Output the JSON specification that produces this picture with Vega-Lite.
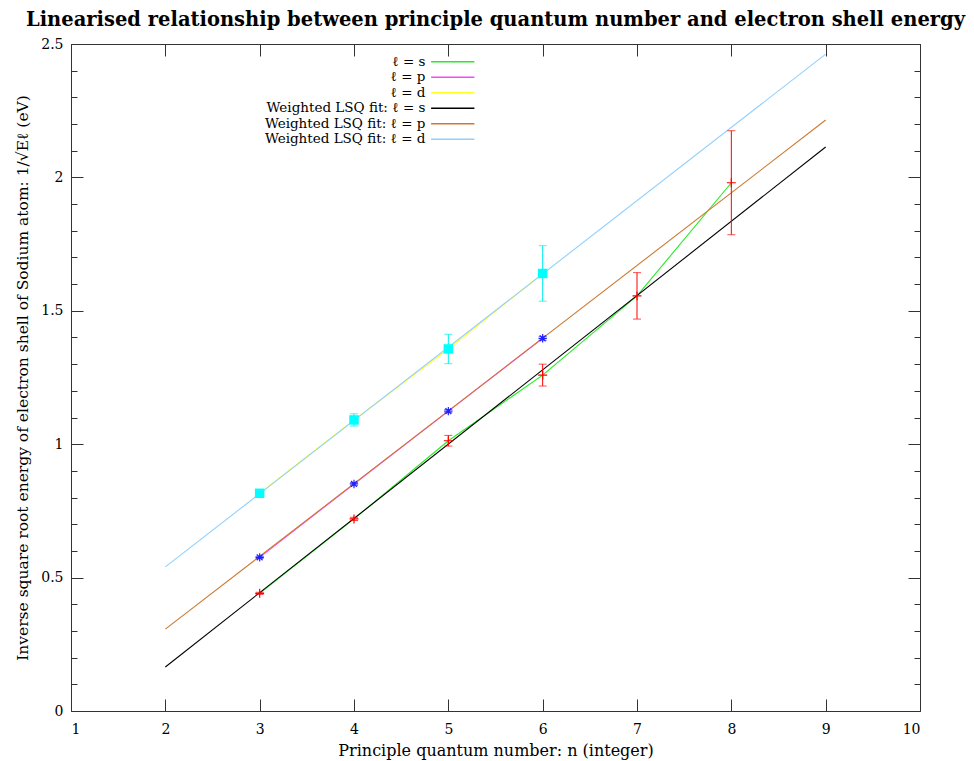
{
  "$schema": "https://vega.github.io/schema/vega-lite/v6.json",
  "width": 849,
  "height": 667,
  "autosize": {"type": "none"},
  "padding": {"left": 71, "top": 44, "right": 54, "bottom": 50},
  "background": "white",
  "config": {
    "view": {"stroke": "#333333", "strokeWidth": 1},
    "font": "DejaVu Serif",
    "axis": {"grid": false, "domain": false, "tickColor": "#333333", "labelFont": "DejaVu Serif", "titleFont": "DejaVu Serif", "labelColor": "black", "titleColor": "black", "titleFontWeight": "normal"}
  },
  "title": {"text": "Linearised relationship between principle quantum number and electron shell energy", "font": "DejaVu Serif", "fontWeight": "bold", "fontSize": 19.5, "offset": 7, "anchor": "middle", "color": "black"},
  "datasets": {
    "rows": [
      {"label": "ℓ = s", "l": "s", "kind": "data", "n": 3, "E": 0.441, "err": 0.004},
      {"label": "ℓ = s", "l": "s", "kind": "data", "n": 4, "E": 0.720, "err": 0.006},
      {"label": "ℓ = s", "l": "s", "kind": "data", "n": 5, "E": 1.013, "err": 0.020},
      {"label": "ℓ = s", "l": "s", "kind": "data", "n": 6, "E": 1.259, "err": 0.041},
      {"label": "ℓ = s", "l": "s", "kind": "data", "n": 7, "E": 1.556, "err": 0.087},
      {"label": "ℓ = s", "l": "s", "kind": "data", "n": 8, "E": 1.980, "err": 0.195},
      {"label": "ℓ = p", "l": "p", "kind": "data", "n": 3, "E": 0.576, "err": 0.004},
      {"label": "ℓ = p", "l": "p", "kind": "data", "n": 4, "E": 0.851, "err": 0.005},
      {"label": "ℓ = p", "l": "p", "kind": "data", "n": 5, "E": 1.124, "err": 0.006},
      {"label": "ℓ = p", "l": "p", "kind": "data", "n": 6, "E": 1.397, "err": 0.007},
      {"label": "ℓ = d", "l": "d", "kind": "data", "n": 3, "E": 0.816, "err": 0.008},
      {"label": "ℓ = d", "l": "d", "kind": "data", "n": 4, "E": 1.091, "err": 0.023},
      {"label": "ℓ = d", "l": "d", "kind": "data", "n": 5, "E": 1.357, "err": 0.055},
      {"label": "ℓ = d", "l": "d", "kind": "data", "n": 6, "E": 1.640, "err": 0.104},
      {"label": "Weighted LSQ fit: ℓ = s", "l": "s", "kind": "fit", "n": 2, "E": 0.165},
      {"label": "Weighted LSQ fit: ℓ = s", "l": "s", "kind": "fit", "n": 9, "E": 2.114},
      {"label": "Weighted LSQ fit: ℓ = p", "l": "p", "kind": "fit", "n": 2, "E": 0.307},
      {"label": "Weighted LSQ fit: ℓ = p", "l": "p", "kind": "fit", "n": 9, "E": 2.215},
      {"label": "Weighted LSQ fit: ℓ = d", "l": "d", "kind": "fit", "n": 2, "E": 0.540},
      {"label": "Weighted LSQ fit: ℓ = d", "l": "d", "kind": "fit", "n": 9, "E": 2.462}
    ]
  },
  "data": {"name": "rows"},
  "resolve": {"scale": {"color": "independent"}, "axis": {"x": "independent", "y": "independent"}},
  "layer": [
    {
      "mark": {"type": "line", "strokeWidth": 1.1},
      "encoding": {
        "x": {"field": "n", "type": "quantitative", "scale": {"domain": [1, 10], "nice": false},
              "axis": {"orient": "bottom", "values": [1,2,3,4,5,6,7,8,9,10], "tickSize": -12, "labelPadding": 23, "labelFontSize": 14, "title": "Principle quantum number: n (integer)", "titleFontSize": 16, "titlePadding": 6}},
        "y": {"field": "E", "type": "quantitative", "scale": {"domain": [0, 2.5], "nice": false, "zero": true},
              "axis": {"orient": "left", "values": [0, 0.5, 1, 1.5, 2, 2.5], "format": "~g", "tickSize": -12, "labelPadding": 20, "labelFontSize": 14, "title": "Inverse square root energy of electron shell of Sodium atom: 1/√Eℓ (eV)", "titleFontSize": 15.5, "titlePadding": 10}},
        "color": {"field": "label", "type": "nominal",
                  "scale": {"domain": ["ℓ = s", "ℓ = p", "ℓ = d", "Weighted LSQ fit: ℓ = s", "Weighted LSQ fit: ℓ = p", "Weighted LSQ fit: ℓ = d"],
                            "range": ["#22ee22", "#ff44ff", "#ffff22", "#000000", "#cc7a30", "#90d0ff"]},
                  "legend": {"orient": "none", "legendX": 375, "legendY": 11, "title": null, "symbolType": "M-5,0H5", "symbolSize": 75, "symbolStrokeWidth": 1.5, "labelAlign": "right", "labelOffset": -34, "labelLimit": 400, "labelFont": "DejaVu Serif", "labelFontSize": 13.5, "labelColor": "black", "rowPadding": 0.5, "padding": 0}},
        "order": {"field": "n", "type": "quantitative"}
      }
    },
    {
      "transform": [{"filter": "datum.kind === 'data'"}],
      "mark": {"type": "errorbar", "ticks": {"size": 8}, "thickness": 1},
      "encoding": {
        "x": {"field": "n", "type": "quantitative", "axis": null},
        "y": {"field": "E", "type": "quantitative", "axis": null},
        "yError": {"field": "err"},
        "color": {"field": "l", "type": "nominal", "scale": {"domain": ["s", "p", "d"], "range": ["#ff0000", "#2020ff", "#00eeee"]}, "legend": null}
      }
    },
    {
      "transform": [{"filter": "datum.kind === 'data' && datum.l === 's'"}],
      "mark": {"type": "point", "shape": "M-1,0H1M0,-1V1", "size": 80, "filled": false, "stroke": "#ff0000", "strokeWidth": 1.2, "opacity": 1},
      "encoding": {
        "x": {"field": "n", "type": "quantitative", "axis": {"orient": "top", "values": [1,2,3,4,5,6,7,8,9,10], "tickSize": -12, "labels": false, "title": null}},
        "y": {"field": "E", "type": "quantitative", "axis": {"orient": "right", "values": [0, 0.5, 1, 1.5, 2, 2.5], "tickSize": -12, "labels": false, "title": null}}
      }
    },
    {
      "transform": [{"filter": "datum.kind === 'data' && datum.l === 'p'"}],
      "mark": {"type": "point", "shape": "M-1,0H1M0,-1V1M-0.7,-0.7L0.7,0.7M-0.7,0.7L0.7,-0.7", "size": 70, "filled": false, "stroke": "#2020ff", "strokeWidth": 1.2, "opacity": 1},
      "encoding": {
        "x": {"field": "n", "type": "quantitative", "axis": null},
        "y": {"field": "E", "type": "quantitative", "axis": {"orient": "right", "values": [0.1,0.2,0.3,0.4,0.6,0.7,0.8,0.9,1.1,1.2,1.3,1.4,1.6,1.7,1.8,1.9,2.1,2.2,2.3,2.4], "tickSize": -6, "labels": false, "title": null}}
      }
    },
    {
      "transform": [{"filter": "datum.kind === 'data' && datum.l === 'd'"}],
      "mark": {"type": "square", "size": 90, "filled": true, "color": "#00ffff", "opacity": 1},
      "encoding": {
        "x": {"field": "n", "type": "quantitative", "axis": null},
        "y": {"field": "E", "type": "quantitative", "axis": {"orient": "left", "values": [0.1,0.2,0.3,0.4,0.6,0.7,0.8,0.9,1.1,1.2,1.3,1.4,1.6,1.7,1.8,1.9,2.1,2.2,2.3,2.4], "tickSize": -6, "labels": false, "title": null}}
      }
    }
  ]
}
